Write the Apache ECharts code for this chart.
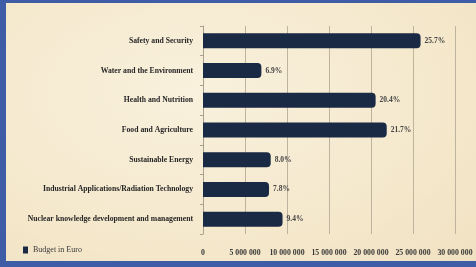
<!DOCTYPE html>
<html>
<head>
<meta charset="utf-8">
<script src="https://cdn.jsdelivr.net/npm/echarts@6/dist/echarts.min.js"></script>
<style>
  html, body { margin: 0; padding: 0; background: #3f5ca6; }
  #chart {
    position: absolute; left: 6px; top: 3px;
    width: 470px; height: 258px;
    background: radial-gradient(ellipse at 40% 35%, #f9f1dd 0%, #f4e7ca 70%, #f0e1c1 100%);
  }
</style>
</head>
<body>
<div id="chart"></div>
<script>
// categories listed bottom to top (category axis starts at the bottom)
const categories = [
    "Nuclear knowledge development and management",
    "Industrial Applications/Radiation Technology",
    "Sustainable Energy",
    "Food and Agriculture",
    "Health and Nutrition",
    "Water and the Environment",
    "Safety and Security"
];
const budget = [9470000, 7860000, 8060000, 21870000, 20550000, 6950000, 25900000];
const shares = ["9.4%", "7.8%", "8.0%", "21.7%", "20.4%", "6.9%", "25.7%"];
const xTicks = [0, 5000000, 10000000, 15000000, 20000000, 25000000, 30000000];

const serif = "'Liberation Serif', 'Times New Roman', serif";

function spaced(v) {
    return String(v).replace(/\B(?=(\d{3})+(?!\d))/g, " ");
}

let chart = echarts.init(document.getElementById("chart"));

let options = {
    backgroundColor: "transparent",
    animation: false,
    grid: {
        left: 197,
        right: 21,
        top: 23,
        height: 208
    },
    legend: {
        left: 12,
        bottom: 2,
        itemWidth: 5,
        itemHeight: 7,
        itemGap: 2,
        icon: "rect",
        textStyle: {
            fontFamily: serif,
            fontSize: 8,
            color: "#3a3a3a"
        },
        data: ["Budget in Euro"]
    },
    xAxis: {
        type: "value",
        min: xTicks[0],
        max: xTicks[xTicks.length - 1],
        interval: 5000000,
        axisLine: { show: false },
        axisTick: { show: false },
        axisLabel: {
            margin: 15,
            fontFamily: serif,
            fontWeight: "bold",
            fontSize: 7.8,
            color: "#3a3a3a",
            formatter: (v) => spaced(v)
        },
        splitLine: {
            show: true,
            lineStyle: { color: "#bdb39f", width: 1 }
        }
    },
    yAxis: {
        type: "category",
        data: categories,
        axisLine: {
            show: true,
            lineStyle: { color: "#aaa18e" }
        },
        axisTick: {
            show: true,
            length: 3,
            lineStyle: { color: "#aaa18e" }
        },
        axisLabel: {
            margin: 10,
            fontFamily: serif,
            fontWeight: "bold",
            fontSize: 7.7,
            color: "#262626"
        }
    },
    series: [{
        name: "Budget in Euro",
        type: "bar",
        data: budget,
        barWidth: 15,
        itemStyle: {
            color: "#1a2944",
            borderRadius: [0, 4, 4, 0]
        },
        label: {
            show: true,
            position: "right",
            distance: 4,
            fontFamily: serif,
            fontWeight: "bold",
            fontSize: 7.5,
            color: "#444",
            formatter: (p) => shares[p.dataIndex]
        }
    }]
};
chart.setOption(options);
</script>
</body>
</html>
